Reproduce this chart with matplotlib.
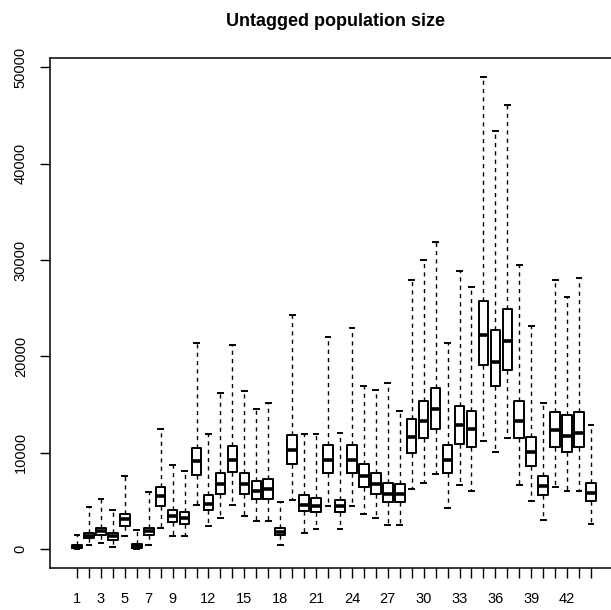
import matplotlib
matplotlib.use("Agg")
import matplotlib.pyplot as plt

plt.rcParams['font.family'] = ['Liberation Sans', 'DejaVu Sans']

title = "Untagged population size"
groups = list(range(1, 45))
shown_labels = [1, 3, 5, 7, 9, 12, 15, 18, 21, 24, 27, 30, 33, 36, 39, 42]

whisker_low = [50, 480, 670, 290, 1350, 20, 480, 2180, 1430, 1430,
               4640, 2370, 3240, 4640, 3430, 2940, 2940, 480, 5140, 1730,
               2070, 4450, 2070, 4450, 3700, 3240, 2560, 2560, 6270, 6910,
               7790, 4260, 6650, 6080, 11190, 10130, 11530, 6720, 5020, 3020,
               6420, 6040, 6040, 2670]
q1 = [120, 1124, 1503, 973, 2450, 100, 1500, 4530, 2865, 2640,
      7750, 4076, 5700, 7970, 5700, 5210, 5210, 1500, 8800, 4000,
      3850, 7940, 3850, 7940, 6420, 5700, 4900, 4900, 9950, 11530,
      12520, 7940, 10960, 10620, 19140, 16940, 18570, 11530, 8620, 5590,
      10620, 10130, 10620, 5020]
medians = [280, 1400, 1850, 1350, 3130, 300, 1850, 5480, 3500, 3240,
           9110, 4750, 6730, 9300, 6800, 6070, 6230, 1840, 10310, 4640,
           4530, 9300, 4530, 9260, 7560, 6730, 5770, 5700, 11650, 13350,
           14560, 9300, 12860, 12480, 22250, 19410, 21600, 13350, 10060, 6530,
           12330, 11760, 12100, 5850]
q3 = [450, 1692, 2184, 1692, 3700, 560, 2180, 6460, 4076, 3885,
      10500, 5590, 7940, 10690, 7940, 7100, 7290, 2180, 11830, 5590,
      5290, 10810, 5130, 10810, 8800, 7940, 6910, 6800, 13540, 15360,
      16750, 10810, 14860, 14370, 25770, 22700, 24890, 15360, 11650, 7600,
      14220, 13920, 14220, 6910]
whisker_high = [1500, 4380, 5210, 4076, 7600, 1980, 5960, 12480, 8700, 8130,
                21380, 11910, 16260, 21190, 16450, 14600, 15130, 4950, 24260, 11910,
                11910, 22060, 12030, 23000, 16950, 16560, 17250, 14370, 27920, 30000,
                31900, 21380, 28830, 27240, 49000, 43360, 46090, 29440, 23190, 15130,
                27920, 26220, 28110, 12900]

stats = []
for i, g in enumerate(groups):
    stats.append(dict(label=str(g), whislo=whisker_low[i], q1=q1[i], med=medians[i],
                      q3=q3[i], whishi=whisker_high[i], fliers=[]))

fig = plt.figure(figsize=(6.11, 6.10), dpi=100)
ax = fig.add_axes([50/611, 1 - 568/610, 568/611, 510/610])

ax.bxp(stats, positions=groups, widths=0.8, showfliers=False,
       boxprops=dict(color='black', linewidth=1.4),
       medianprops=dict(color='black', linewidth=2.6, solid_capstyle='butt'),
       whiskerprops=dict(color='black', linewidth=1.0, linestyle=(0, (3, 3))),
       capprops=dict(color='black', linewidth=1.4),
       capwidths=0.4)

n = len(groups)
ax.set_xlim(0.5 - 0.04 * n, n + 0.5 + 0.04 * n)
lo = min(whisker_low)
hi = max(whisker_high)
r = hi - lo
ax.set_ylim(lo - 0.04 * r, hi + 0.04 * r)

ax.set_xticks(groups)
ax.set_xticklabels([str(g) if g in shown_labels else '' for g in groups])
ax.set_yticks([0, 10000, 20000, 30000, 40000, 50000])
ax.set_yticklabels(['0', '10000', '20000', '30000', '40000', '50000'],
                   rotation=90, va='center')

ax.tick_params(axis='both', direction='out', length=7, width=1.0,
               labelsize=10.5, colors='black')
ax.tick_params(axis='x', pad=10)
ax.tick_params(axis='y', pad=9)
for s in ax.spines.values():
    s.set_linewidth(1.1)
    s.set_color('black')

fig.text(336 / 611, 1 - 22 / 610, title, ha='center', va='center',
         fontsize=13, fontweight='bold')

fig.savefig('out.png', dpi=100)
